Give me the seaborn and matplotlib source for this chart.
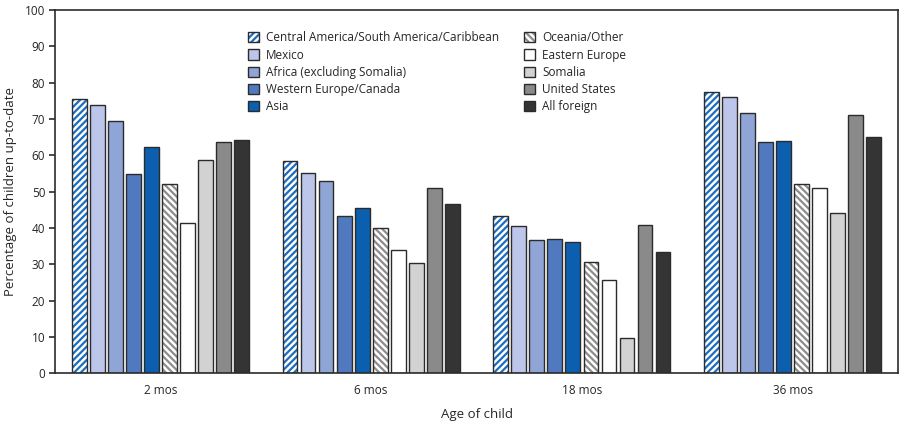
import numpy as np
import pandas as pd
import matplotlib
matplotlib.use('Agg')
import matplotlib.pyplot as plt
from matplotlib.patches import Patch, Rectangle
import seaborn as sns

# dados
idades = ['2 mos', '6 mos', '18 mos', '36 mos']
origens = ['Central America/South America/Caribbean', 'Mexico', 'Africa (excluding Somalia)',
           'Western Europe/Canada', 'Asia', 'Oceania/Other', 'Eastern Europe', 'Somalia',
           'United States', 'All foreign']
central = [75.6, 58.5, 43.3, 77.5]
mexico = [73.9, 55.2, 40.5, 76.2]
africa = [69.5, 52.8, 36.8, 71.8]
weurope = [54.8, 43.3, 37.0, 63.7]
asia = [62.3, 45.6, 36.0, 64.0]
oceania = [52.2, 40.0, 30.6, 52.2]
eeurope = [41.3, 33.8, 25.7, 50.9]
somalia = [58.8, 30.4, 9.8, 44.2]
usa = [63.7, 51.0, 40.8, 71.2]
allforeign = [64.3, 46.6, 33.5, 65.0]

valores = [central, mexico, africa, weurope, asia, oceania, eeurope, somalia, usa, allforeign]
cores = ['#ffffff', '#bcc6ea', '#8fa5d6', '#5079c0', '#0b5fae', '#ffffff', '#ffffff',
         '#d2d2d2', '#8a8a8a', '#343434']
hachuras = ['/////', '', '', '', '', '\\\\\\\\\\', '', '', '', '']
cor_hachura = ['#1c6dbf', None, None, None, None, '#8c8c8c', None, None, None, None]
borda = '#2b2b2b'

linhas = []
for o, vals in zip(origens, valores):
    for i, v in zip(idades, vals):
        linhas.append({'idade': i, 'origem': o, 'pct': v})
df = pd.DataFrame(linhas)

sns.set_style('white')
plt.rcParams['font.family'] = ['Open Sans', 'DejaVu Sans']
plt.rcParams['hatch.linewidth'] = 1.6

fig = plt.figure(figsize=(9.08, 4.24), dpi=100)
ax = fig.add_axes([0.0606, 0.120, 0.9284, 0.856])

sns.barplot(data=df, x='idade', y='pct', hue='origem', order=idades, hue_order=origens,
            palette=cores, width=0.855, edgecolor=borda, linewidth=1.0,
            saturation=1, legend=False, ax=ax)

# barras mais finas, com espaço entre elas; hachura colorida e contorno escuro
for k, cont in enumerate(ax.containers):
    for bar in cont:
        w = bar.get_width()
        novo = w * 0.82
        bar.set_x(bar.get_x() + (w - novo) / 2)
        bar.set_width(novo)
        if hachuras[k]:
            bar.set_hatch(hachuras[k])
            bar.set_edgecolor(cor_hachura[k])
            bar.set_linewidth(0)
            ax.add_patch(Rectangle((bar.get_x(), 0), novo, bar.get_height(), fill=False,
                                   edgecolor=borda, linewidth=1.0, zorder=bar.get_zorder() + 0.1))

ax.set_ylim(0, 100)
ax.set_xlim(-0.5, 3.5)
ax.set_yticks(range(0, 101, 10))
ax.tick_params(axis='y', length=4, width=1.2, color=borda, labelsize=8.5, pad=3, left=True)
ax.tick_params(axis='x', length=0, labelsize=8.5, pad=8)
for s in ax.spines.values():
    s.set_visible(True)
    s.set_color(borda)
    s.set_linewidth(1.2)

ax.set_xlabel('Age of child', fontsize=9.5, labelpad=8)
ax.set_ylabel('Percentage of children up-to-date', fontsize=9.5, labelpad=6)

# legenda
handles = []
for k in range(len(origens)):
    if hachuras[k]:
        h = (Patch(facecolor='white', hatch=hachuras[k], edgecolor=cor_hachura[k], linewidth=0),
             Patch(fill=False, edgecolor=borda, linewidth=1.0))
    else:
        h = Patch(facecolor=cores[k], edgecolor=borda, linewidth=1.0)
    handles.append(h)
ax.legend(handles, origens, ncol=2, loc='upper left', bbox_to_anchor=(0.222, 0.958),
          frameon=False, fontsize=8.5, handlelength=0.95, handleheight=0.95,
          handletextpad=0.6, columnspacing=2.05, labelspacing=0.36, borderpad=0)

fig.savefig('out.png', dpi=100)
